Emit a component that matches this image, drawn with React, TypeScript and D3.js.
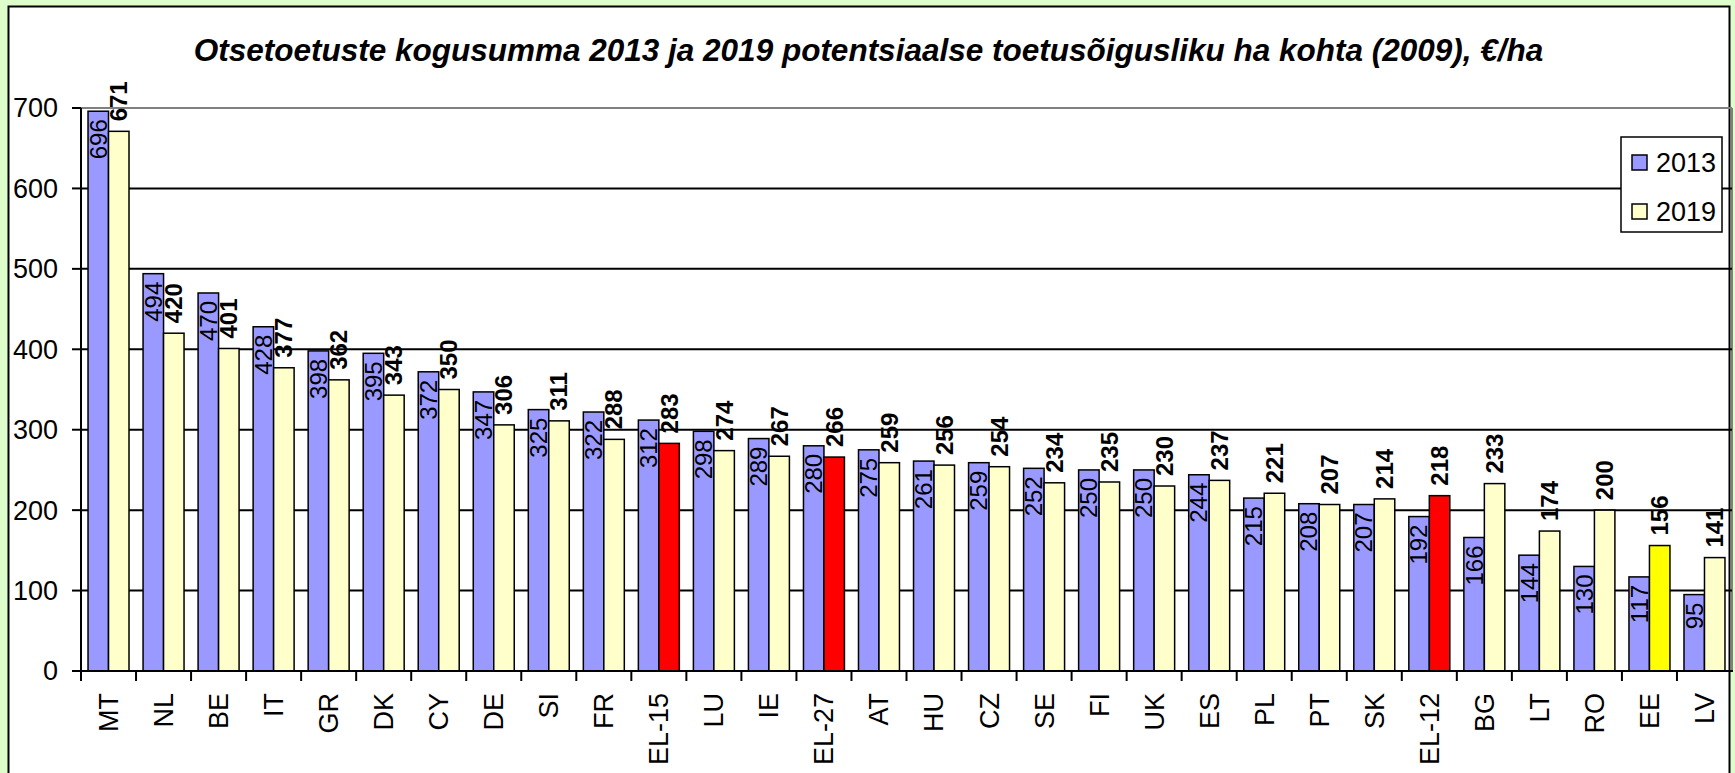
import React from "react";
import * as d3 from "d3";

const categories = ["MT","NL","BE","IT","GR","DK","CY","DE","SI","FR","EL-15","LU","IE","EL-27","AT","HU","CZ","SE","FI","UK","ES","PL","PT","SK","EL-12","BG","LT","RO","EE","LV"];
const values2013 = [696,494,470,428,398,395,372,347,325,322,312,298,289,280,275,261,259,252,250,250,244,215,208,207,192,166,144,130,117,95];
const values2019 = [671,420,401,377,362,343,350,306,311,288,283,274,267,266,259,256,254,234,235,230,237,221,207,214,218,233,174,200,156,141];
const seriesNames = ["2013","2019"];
const yTicks = [0,100,200,300,400,500,600,700];
const highlightRed = ["EL-15","EL-27","EL-12"];
const highlightYellow = ["EE"];
const title = "Otsetoetuste kogusumma 2013 ja 2019 potentsiaalse toetusõigusliku ha kohta (2009), €/ha";

const FONT = "Arial, 'Liberation Sans', sans-serif";
const C2013 = "#9999FF";
const C2019 = "#FFFFCC";

export default function App() {
  const W = 1735, H = 773;
  const left = 81, right = 1732, top = 108, bottom = 671;
  const x0 = d3.scaleBand<string>().domain(categories).range([left, right]).padding(0);
  const x1 = d3.scaleBand<string>().domain(seriesNames).range([0, x0.bandwidth()]).paddingInner(0).paddingOuter(0.343);
  const y = d3.scaleLinear().domain([0, 700]).range([bottom, top]);

  const color2019 = (c: string) => highlightRed.includes(c) ? "#FF0000" : highlightYellow.includes(c) ? "#FFFF00" : C2019;

  return (
    <svg width={W} height={H} style={{ position: "absolute", left: 0, top: 0, display: "block" }} fontFamily={FONT}>
      <rect x={0} y={0} width={W} height={H} fill="#DDFDCB" />
      <rect x={8.5} y={6.5} width={1721} height={H + 10} fill="#FFFFFF" stroke="#000" strokeWidth={2} />
      <text x={868.5} y={61} textAnchor="middle" fontSize={31.5} fontWeight="bold" fontStyle="italic">{title}</text>
      {/* plot area */}
      <line x1={left} x2={right} y1={y(700)} y2={y(700)} stroke="#808080" strokeWidth={2} />
      <line x1={right} x2={right} y1={y(700)} y2={bottom} stroke="#808080" strokeWidth={2} />
      {yTicks.filter(t => t > 0 && t < 700).map(t => (
        <line key={"g" + t} x1={left} x2={right} y1={y(t)} y2={y(t)} stroke="#000" strokeWidth={2} />
      ))}
      {/* bars */}
      {categories.map((c, i) => {
        const bx = x0(c)!;
        const a = bx + x1("2013")!;
        const b = bx + x1("2019")!;
        const bw = x1.bandwidth();
        return (
          <g key={c}>
            <rect x={a} y={y(values2013[i])} width={bw} height={bottom - y(values2013[i])} fill={C2013} stroke="#000" strokeWidth={1.5} />
            <rect x={b} y={y(values2019[i])} width={bw} height={bottom - y(values2019[i])} fill={color2019(c)} stroke="#000" strokeWidth={1.5} />
          </g>
        );
      })}
      {/* labels */}
      {categories.map((c, i) => {
        const bx = x0(c)!;
        const bw = x1.bandwidth();
        const ca = bx + x1("2013")! + bw / 2;
        const cb = bx + x1("2019")! + bw / 2;
        const ya = y(values2013[i]) + 8;
        const yb = y(values2019[i]) - 10;
        return (
          <g key={"l" + c}>
            <text transform={`translate(${ca},${ya}) rotate(-90)`} textAnchor="end" dy="0.35em" fontSize={24}>{values2013[i]}</text>
            <text transform={`translate(${cb},${yb}) rotate(-90)`} textAnchor="start" dy="0.35em" fontSize={24} fontWeight="bold">{values2019[i]}</text>
          </g>
        );
      })}
      {/* axes */}
      <line x1={left} x2={left} y1={y(700)} y2={bottom} stroke="#000" strokeWidth={2} />
      <line x1={left} x2={right + 1} y1={bottom} y2={bottom} stroke="#000" strokeWidth={2} />
      {yTicks.map(t => (
        <g key={"y" + t}>
          <line x1={left - 9} x2={left} y1={y(t)} y2={y(t)} stroke="#000" strokeWidth={2} />
          <text x={58} y={y(t)} dy="0.35em" textAnchor="end" fontSize={27}>{t}</text>
        </g>
      ))}
      {categories.map((c) => (
        <line key={"t" + c} x1={x0(c)!} x2={x0(c)!} y1={bottom} y2={bottom + 10} stroke="#000" strokeWidth={2} />
      ))}
      {categories.map(c => (
        <text key={"c" + c} transform={`translate(${x0(c)! + x0.bandwidth() / 2},693) rotate(-90)`} textAnchor="end" dy="0.35em" fontSize={27}>{c}</text>
      ))}
      {/* legend */}
      <rect x={1621} y={137} width={101} height={95} fill="#FFF" stroke="#000" strokeWidth={1.5} />
      {seriesNames.map((s, i) => (
        <g key={"lg" + s}>
          <rect x={1632} y={155 + i * 49} width={15} height={15} fill={i === 0 ? C2013 : C2019} stroke="#000" strokeWidth={1.5} />
          <text x={1656} y={172 + i * 49} fontSize={27}>{s}</text>
        </g>
      ))}
    </svg>
  );
}
